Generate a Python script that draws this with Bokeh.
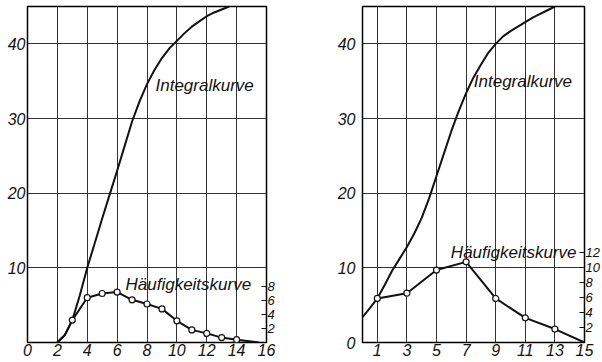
from bokeh.plotting import figure
from bokeh.models import Range1d, LinearAxis, FixedTicker, Label
from bokeh.layouts import row
from bokeh.embed import file_html
from bokeh.resources import INLINE

# ---------------- data ----------------
# left panel
l_xticks = [0, 2, 4, 6, 8, 10, 12, 14, 16]
l_yticks = [10, 20, 30, 40]
l_hticks = [2, 4, 6, 8]
l_int_x = [2, 2.5, 3, 3.5, 4, 4.5, 5, 5.5, 6, 6.5, 7, 7.5, 8, 8.5, 9, 9.5,
           10, 10.5, 11, 11.5, 12, 12.5, 13, 13.5]
l_int_y = [0, 1.0, 3.0, 6.3, 10.0, 13.3, 16.6, 19.8, 23.0, 26.3, 29.6, 32.3,
           34.6, 36.5, 38.1, 39.4, 40.4, 41.4, 42.3, 43.0, 43.7, 44.2, 44.6, 45.0]
l_hf_x = [3, 4, 5, 6, 7, 8, 9, 10, 11, 12, 13, 14]
l_hf_y = [3.2, 6.4, 7.0, 7.2, 6.1, 5.5, 4.8, 3.1, 1.8, 1.3, 0.7, 0.4]
l_hf_start_x = [2, 2.5]
l_hf_start_y = [0, 1.06]
l_hf_end_x = [15.5]
l_hf_end_y = [0]

# right panel
r_xticks = [1, 3, 5, 7, 9, 11, 13, 15]
r_yticks = [0, 10, 20, 30, 40]
r_hticks = [2, 4, 6, 8, 10, 12]
r_int_x = [0, 0.5, 1, 1.5, 2, 2.5, 3, 3.5, 4, 4.5, 5, 5.5, 6, 6.5, 7, 7.5,
           8, 8.5, 9, 9.5, 10, 10.5, 11, 11.5, 12, 12.5, 13]
r_int_y = [3.4, 4.6, 5.9, 7.7, 9.6, 11.2, 12.8, 14.6, 16.7, 19.3, 22.3, 25.3,
           28.3, 31.0, 33.4, 35.5, 37.2, 38.8, 40.0, 41.0, 41.7, 42.3, 42.9,
           43.5, 44.0, 44.5, 45.0]
r_hf_x = [1, 3, 5, 7, 9, 11, 13, 15]
r_hf_y = [5.9, 6.6, 9.7, 10.8, 5.9, 3.3, 1.8, 0]

FONT = "Liberation Sans"
INK = "#111111"
GRID = "#333333"


def style(p, xt, yt):
    p.outline_line_color = "black"
    p.outline_line_width = 1.5
    p.outline_line_alpha = 1
    p.background_fill_color = "white"
    p.border_fill_color = "white"
    for ax in (p.xaxis[0], p.yaxis[0]):
        ax.axis_line_color = None
        ax.major_tick_line_color = None
        ax.minor_tick_line_color = None
        ax.major_tick_out = 0
        ax.major_tick_in = 0
        ax.minor_tick_out = 0
        ax.major_label_text_font = FONT
        ax.major_label_text_font_style = "italic"
        ax.major_label_text_font_size = "16px"
        ax.major_label_text_color = INK
    p.xaxis[0].major_label_standoff = 1
    p.xaxis[0].ticker = FixedTicker(ticks=xt)
    p.yaxis[0].ticker = FixedTicker(ticks=yt)
    p.xgrid.ticker = FixedTicker(ticks=xt)
    p.ygrid.ticker = FixedTicker(ticks=[10, 20, 30, 40])
    for g in (p.xgrid, p.ygrid):
        g.grid_line_color = GRID
        g.grid_line_width = 1
        g.grid_line_alpha = 1


def right_axis(p, ticks, rng=None):
    kw = {}
    if rng:
        kw["y_range_name"] = rng
    ax = LinearAxis(ticker=FixedTicker(ticks=ticks), **kw)
    ax.axis_line_color = None
    ax.major_tick_in = 5
    ax.major_tick_out = 0
    ax.minor_tick_out = 0
    ax.major_tick_line_color = INK
    ax.major_tick_line_width = 1.2
    ax.minor_tick_line_color = None
    ax.major_label_standoff = 1
    ax.major_label_text_font = FONT
    ax.major_label_text_font_style = "italic"
    ax.major_label_text_font_size = "13px"
    ax.major_label_text_color = INK
    p.add_layout(ax, "right")


def label(p, x, y, t, rng="default"):
    p.add_layout(Label(x=x, y=y, text=t, y_range_name=rng, text_font=FONT,
                       text_font_style="italic", text_font_size="17px",
                       text_color=INK, text_align="left", text_baseline="middle"))


H = 361

# ---------------- left panel ----------------
p1 = figure(width=300, height=H, x_range=Range1d(0, 16), y_range=Range1d(0, 45),
            min_border_left=27, min_border_right=34, min_border_top=3, min_border_bottom=19,
            output_backend="svg", toolbar_location=None)
p1.extra_y_ranges = {"h": Range1d(0, 48)}
style(p1, l_xticks, l_yticks)
p1.yaxis[0].major_label_standoff = 2
right_axis(p1, l_hticks, "h")

p1.line(l_int_x, l_int_y, line_color=INK, line_width=2)
p1.line(l_hf_start_x + l_hf_x + l_hf_end_x, l_hf_start_y + l_hf_y + l_hf_end_y,
        y_range_name="h", line_color=INK, line_width=2)
p1.scatter(l_hf_x, l_hf_y, y_range_name="h", size=6, fill_color="white",
           line_color=INK, line_width=1.2)
label(p1, 8.57, 34.4, "Integralkurve")
label(p1, 6.56, 8.3, "Häufigkeitskurve", "h")

# ---------------- right panel ----------------
p2 = figure(width=302, height=H, x_range=Range1d(0, 15), y_range=Range1d(0, 45),
            min_border_left=62, min_border_right=15, min_border_top=6, min_border_bottom=18,
            output_backend="svg", toolbar_location=None)
style(p2, r_xticks, r_yticks)
p2.yaxis[0].major_label_standoff = 7
right_axis(p2, r_hticks)

p2.line(r_int_x, r_int_y, line_color=INK, line_width=2)
p2.line(r_hf_x, r_hf_y, line_color=INK, line_width=2)
p2.scatter(r_hf_x[:-1], r_hf_y[:-1], size=6, fill_color="white",
           line_color=INK, line_width=1.2)
label(p2, 7.52, 34.9, "Integralkurve")
label(p2, 5.97, 12.0, "Häufigkeitskurve")

layout = row(p1, p2)
open("out.html", "w").write(file_html(layout, INLINE))
